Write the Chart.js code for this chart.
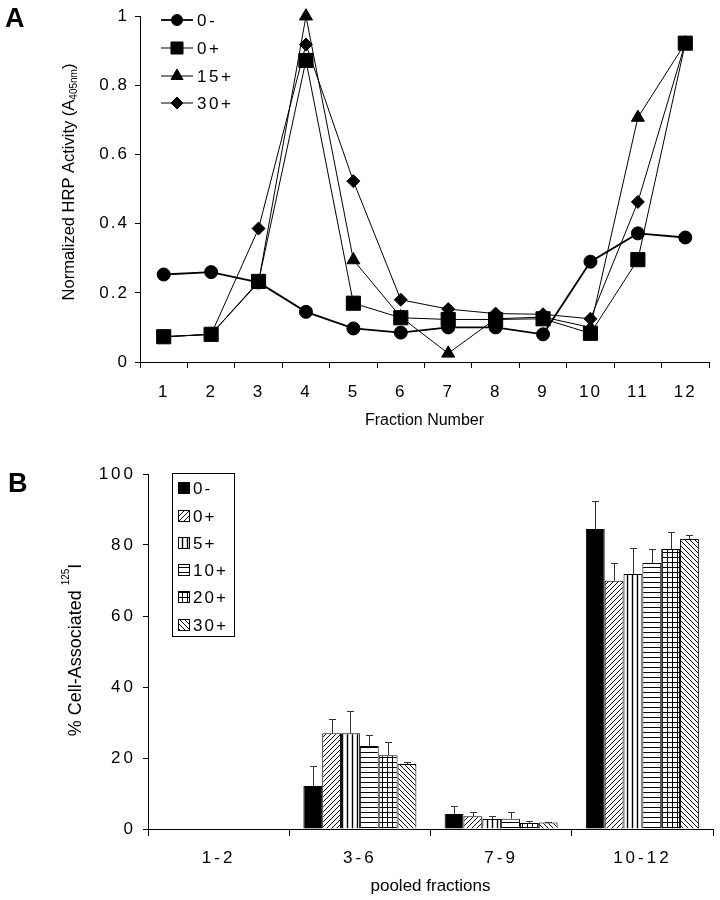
<!DOCTYPE html>
<html>
<head>
<meta charset="utf-8">
<script src="https://cdn.jsdelivr.net/npm/chart.js@4.4.1/dist/chart.umd.min.js"></script>
<style>
  body { margin: 0; background: #fff; }
  #wrap { position: relative; width: 720px; height: 900px; }
  canvas { position: absolute; left: 0; }
  #chartA { top: 0; }
  #chartB { top: 450px; }
</style>
</head>
<body>
<div id="wrap">
  <canvas id="chartA" width="720" height="450"></canvas>
  <canvas id="chartB" width="720" height="450"></canvas>
</div>
<script>
// ---- panel A: HRP activity per fraction
const fractions = ['1', '2', '3', '4', '5', '6', '7', '8', '9', '10', '11', '12'];
const hrp0Minus  = [0.253, 0.26, 0.23, 0.145, 0.097, 0.085, 0.10, 0.10, 0.08, 0.29, 0.372, 0.36];
const hrp0Plus   = [0.073, 0.08, 0.233, 0.872, 0.17, 0.128, 0.123, 0.123, 0.125, 0.083, 0.296, 0.922];
const hrp15Plus  = [0.073, 0.08, 0.23, 1.0, 0.295, 0.13, 0.025, 0.125, 0.13, 0.10, 0.707, 0.922];
const hrp30Plus  = [0.073, 0.08, 0.386, 0.918, 0.523, 0.18, 0.153, 0.14, 0.138, 0.125, 0.463, 0.922];
const hrpTicks   = [0, 0.2, 0.4, 0.6, 0.8, 1];

// ---- panel B: % cell-associated 125I per pooled fraction
const pools      = ['1-2', '3-6', '7-9', '10-12'];
const pct0Minus  = [0, 12.1, 4.2, 84.5];
const pct0Plus   = [0, 27.0, 3.6, 69.9];
const pct5Plus   = [0, 27.0, 2.8, 71.8];
const pct10Plus  = [0, 23.4, 2.9, 74.9];
const pct20Plus  = [0, 20.8, 1.7, 78.9];
const pct30Plus  = [0, 18.3, 1.8, 81.7];
const err0Minus  = [0, 5.6, 2.3, 7.9];
const err0Plus   = [0, 4.0, 1.2, 5.1];
const err5Plus   = [0, 6.3, 0.8, 7.4];
const err10Plus  = [0, 3.1, 1.9, 4.0];
const err20Plus  = [0, 3.7, 0.6, 4.8];
const err30Plus  = [0, 0.6, 0.3, 1.1];

const FONT = '"Liberation Sans", Arial, Helvetica, sans-serif';

// hatch fills for the bars
function hatch(kind) {
  const s = 5;
  const c = document.createElement('canvas');
  c.width = s; c.height = s;
  const g = c.getContext('2d');
  g.fillStyle = '#fff';
  g.fillRect(0, 0, s, s);
  g.strokeStyle = '#000';
  g.lineWidth = 1;
  g.beginPath();
  if (kind === 'up') {
    g.moveTo(-1, s + 1); g.lineTo(s + 1, -1);
    g.moveTo(-1, 1); g.lineTo(1, -1);
    g.moveTo(s - 1, s + 1); g.lineTo(s + 1, s - 1);
  } else if (kind === 'down') {
    g.moveTo(-1, -1); g.lineTo(s + 1, s + 1);
    g.moveTo(s - 1, -1); g.lineTo(s + 1, 1);
    g.moveTo(-1, s - 1); g.lineTo(1, s + 1);
  } else if (kind === 'vert') {
    g.lineWidth = 1.4;
    g.moveTo(2.5, 0); g.lineTo(2.5, s);
  } else if (kind === 'horiz') {
    g.moveTo(0, 2.5); g.lineTo(s, 2.5);
  } else if (kind === 'grid') {
    g.moveTo(2.5, 0); g.lineTo(2.5, s);
    g.moveTo(0, 2.5); g.lineTo(s, 2.5);
  }
  g.stroke();
  return g.createPattern(c, 'repeat');
}

function rotatedRuns(ctx, cx, cy, runs) {
  ctx.save();
  ctx.translate(cx, cy);
  ctx.rotate(-Math.PI / 2);
  let total = 0;
  runs.forEach(r => { ctx.font = r.font; r.w = ctx.measureText(r.text).width; total += r.w; });
  let x = -total / 2;
  ctx.textAlign = 'left';
  ctx.textBaseline = 'alphabetic';
  runs.forEach(r => { ctx.font = r.font; ctx.fillText(r.text, x, r.dy); x += r.w; });
  ctx.restore();
}

const axisBits = (min, max, step, pad) => ({
  min: min, max: max,
  border: { display: true, color: '#000', width: 1 },
  grid: { drawOnChartArea: false, drawTicks: true, tickLength: 5, color: '#000' },
  ticks: {
    stepSize: step, padding: pad, color: '#000', font: { family: FONT, size: 17 },
    callback: v => String(+v.toFixed(1))
  }
});

// ---------------- chart A
const lineSets = [
  { label: '0-',  data: hrp0Minus, pointStyle: 'circle',   pointRadius: 6.5, borderWidth: 1.8, legendR: 5.5 },
  { label: '0+',  data: hrp0Plus,  pointStyle: 'rect',     pointRadius: 10,  borderWidth: 1,   legendR: 8.5 },
  { label: '15+', data: hrp15Plus, pointStyle: 'triangle', pointRadius: 7.5, borderWidth: 1,   legendR: 7 },
  { label: '30+', data: hrp30Plus, pointStyle: 'rectRot',  pointRadius: 6.5, borderWidth: 1,   legendR: 6 }
];

const panelA = {
  id: 'panelA',
  beforeDraw(chart) { chart.ctx.letterSpacing = '2px'; },
  afterDraw(chart) {
    const ctx = chart.ctx;
    const area = chart.chartArea;
    ctx.save();
    ctx.letterSpacing = '0px';
    ctx.fillStyle = '#000';
    ctx.font = 'bold 27px ' + FONT;
    ctx.textAlign = 'left';
    ctx.fillText('A', 5, 27);

    ctx.font = '16px ' + FONT;
    ctx.textAlign = 'center';
    ctx.textBaseline = 'middle';
    ctx.fillText('Fraction Number', (area.left + area.right) / 2, 421);

    rotatedRuns(ctx, 68, 182, [
      { text: 'Normalized HRP Activity (A', font: '16.5px ' + FONT, dy: 6 },
      { text: '405nm', font: '10px ' + FONT, dy: 9 },
      { text: ')', font: '16.5px ' + FONT, dy: 6 }
    ]);

    // legend: line through marker, then label
    ctx.letterSpacing = '2.5px';
    ctx.strokeStyle = '#000';
    ctx.font = '17px ' + FONT;
    ctx.textAlign = 'left';
    const rows = [20, 48, 76, 103];
    lineSets.forEach((s, i) => {
      const y = rows[i];
      ctx.lineWidth = s.borderWidth;
      ctx.beginPath();
      ctx.moveTo(161, y); ctx.lineTo(193, y);
      ctx.stroke();
      ctx.fillStyle = '#000';
      ctx.lineWidth = 1;
      Chart.helpers.drawPoint(ctx, { pointStyle: s.pointStyle, radius: s.legendR, rotation: 0, borderWidth: 1 }, 177, y);
      ctx.fillText(s.label, 197, y + 1);
    });
    ctx.restore();
  }
};

new Chart(document.getElementById('chartA'), {
  type: 'line',
  data: {
    labels: fractions,
    datasets: lineSets.map(s => ({
      label: s.label,
      data: s.data,
      borderColor: '#000',
      borderWidth: s.borderWidth,
      pointStyle: s.pointStyle,
      pointRadius: s.pointRadius,
      pointBackgroundColor: '#000',
      pointBorderColor: '#000',
      pointBorderWidth: 1,
      tension: 0,
      fill: false,
      clip: false
    }))
  },
  options: {
    responsive: false,
    animation: false,
    layout: { padding: { top: 10, right: 10, left: 0, bottom: 0 } },
    plugins: { legend: { display: false }, tooltip: { enabled: false } },
    scales: {
      x: {
        type: 'category',
        offset: true,
        border: { display: true, color: '#000', width: 1 },
        grid: { offset: true, drawOnChartArea: false, drawTicks: true, tickLength: 6, color: '#000' },
        ticks: { color: '#000', padding: 14, font: { family: FONT, size: 17 }, maxRotation: 0, autoSkip: false },
        afterFit: s => { s.height = 88; }
      },
      y: Object.assign(axisBits(0, 1, 0.2, 6), {
        afterBuildTicks: s => { s.ticks = hrpTicks.map(v => ({ value: v })); },
        afterFit: s => { s.width = 140; }
      })
    }
  },
  plugins: [panelA]
});

// ---------------- chart B
const barSets = [
  { label: '0-',  data: pct0Minus, err: err0Minus, fill: '#000' },
  { label: '0+',  data: pct0Plus,  err: err0Plus,  fill: hatch('up') },
  { label: '5+',  data: pct5Plus,  err: err5Plus,  fill: hatch('vert') },
  { label: '10+', data: pct10Plus, err: err10Plus, fill: hatch('horiz') },
  { label: '20+', data: pct20Plus, err: err20Plus, fill: hatch('grid') },
  { label: '30+', data: pct30Plus, err: err30Plus, fill: hatch('down') }
];

const panelB = {
  id: 'panelB',
  beforeDraw(chart) { chart.ctx.letterSpacing = '3px'; },
  afterDatasetsDraw(chart) {
    const ctx = chart.ctx;
    const y = chart.scales.y;
    ctx.save();
    ctx.strokeStyle = '#333';
    ctx.lineWidth = 1;
    chart.data.datasets.forEach((ds, i) => {
      const meta = chart.getDatasetMeta(i);
      meta.data.forEach((bar, j) => {
        const e = ds.errors[j];
        if (!e) return;
        const top = Math.round(y.getPixelForValue(ds.data[j] + e)) + 0.5;
        const x = Math.round(bar.x) + 0.5;
        ctx.beginPath();
        ctx.moveTo(x, bar.y);
        ctx.lineTo(x, top);
        ctx.moveTo(x - 3.5, top);
        ctx.lineTo(x + 3.5, top);
        ctx.stroke();
      });
    });
    ctx.restore();
  },
  afterDraw(chart) {
    const ctx = chart.ctx;
    const area = chart.chartArea;
    ctx.save();
    ctx.letterSpacing = '0px';
    ctx.fillStyle = '#000';
    ctx.font = 'bold 27px ' + FONT;
    ctx.textAlign = 'left';
    ctx.textBaseline = 'alphabetic';
    ctx.fillText('B', 8, 42);

    ctx.font = '17px ' + FONT;
    ctx.textAlign = 'center';
    ctx.textBaseline = 'middle';
    ctx.fillText('pooled fractions', (area.left + area.right) / 2, 436);

    rotatedRuns(ctx, 75, 200, [
      { text: '% Cell-Associated ', font: '18px ' + FONT, dy: 6 },
      { text: '125', font: '10px ' + FONT, dy: -6 },
      { text: 'I', font: '18px ' + FONT, dy: 6 }
    ]);

    // boxed legend
    ctx.strokeStyle = '#000';
    ctx.lineWidth = 1;
    ctx.strokeRect(172.5, 23.5, 62, 163);
    const rows = [38, 66, 93, 120, 147, 175];
    ctx.font = '17px ' + FONT;
    ctx.textAlign = 'left';
    ctx.letterSpacing = '2px';
    barSets.forEach((s, i) => {
      const yy = rows[i];
      ctx.fillStyle = s.fill;
      ctx.fillRect(178, yy - 6, 12, 12);
      ctx.strokeRect(178.5, yy - 5.5, 11, 11);
      ctx.fillStyle = '#000';
      ctx.fillText(s.label, 193, yy + 1);
    });
    ctx.restore();
  }
};

new Chart(document.getElementById('chartB'), {
  type: 'bar',
  data: {
    labels: pools,
    datasets: barSets.map(s => ({
      label: s.label,
      data: s.data,
      errors: s.err,
      backgroundColor: s.fill,
      borderColor: '#000',
      borderWidth: 1,
      categoryPercentage: 0.8,
      barPercentage: 1.0
    }))
  },
  options: {
    responsive: false,
    animation: false,
    layout: { padding: { top: 24, right: 7, left: 0, bottom: 0 } },
    plugins: { legend: { display: false }, tooltip: { enabled: false } },
    scales: {
      x: {
        border: { display: true, color: '#000', width: 1 },
        grid: { offset: true, drawOnChartArea: false, drawTicks: true, tickLength: 7, color: '#000' },
        ticks: { color: '#000', padding: 12, font: { family: FONT, size: 17 }, maxRotation: 0 },
        afterFit: s => { s.height = 71; }
      },
      y: Object.assign(axisBits(0, 100, 20, 7), {
        afterFit: s => { s.width = 148; }
      })
    }
  },
  plugins: [panelB]
});
</script>
</body>
</html>
